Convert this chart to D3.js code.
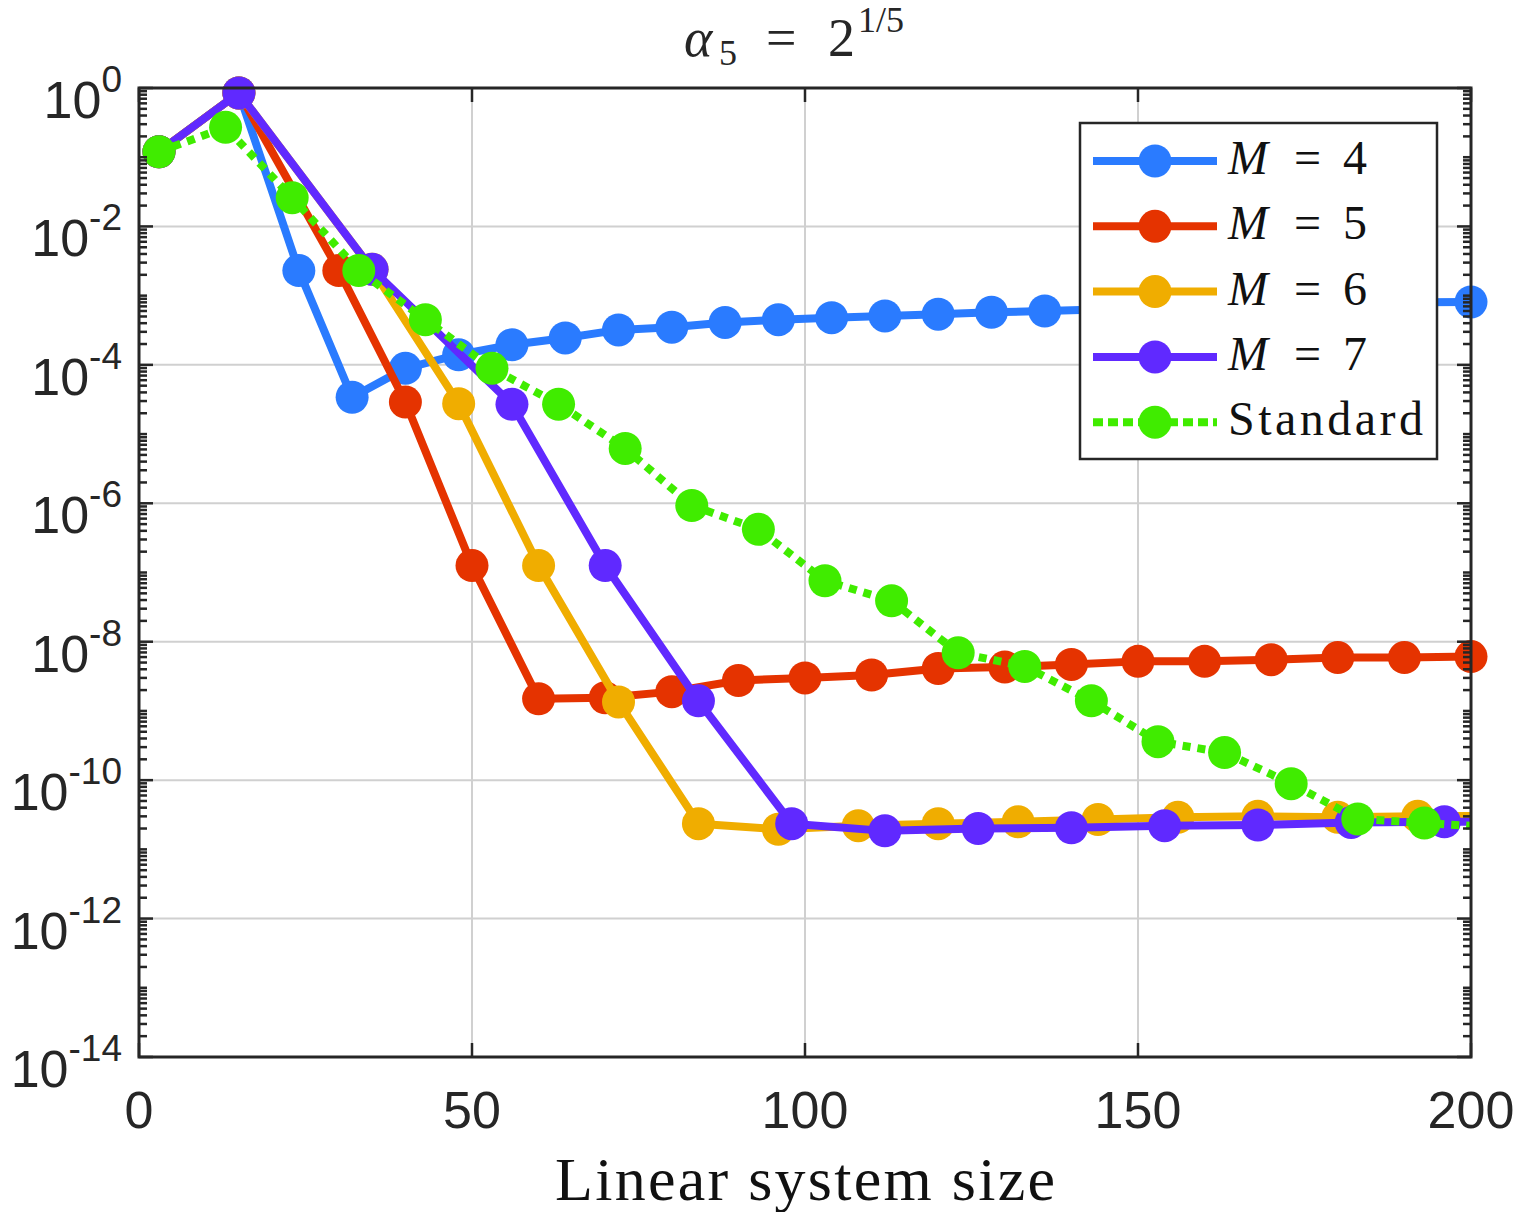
<!DOCTYPE html>
<html>
<head>
<meta charset="utf-8">
<script src="https://cdn.jsdelivr.net/npm/d3@7"></script>
<style>
  body { margin: 0; background: #fff; }
  svg { display: block; }
</style>
</head>
<body>
<svg id="chart" width="1516" height="1212"></svg>
<script>
// data (x = linear system size, y = error)
var seriesNames = ["M = 4", "M = 5", "M = 6", "M = 7", "Standard"];
var seriesColors = ["#2a7bff", "#e53300", "#f0ad00", "#6029ff", "#40ec00"];

var m4X = [3, 15, 24, 32, 40, 48, 56, 64, 72, 80, 88, 96, 104, 112, 120, 128, 136, 144, 152, 160, 168, 176, 184, 192, 200];
var m4Y = [0.12, 0.85, 2.3e-3, 3.4e-5, 8.9e-5, 1.4e-4, 1.95e-4, 2.45e-4, 3.2e-4, 3.5e-4, 4.1e-4, 4.5e-4, 4.8e-4, 5.1e-4, 5.4e-4, 5.75e-4, 6.0e-4, 6.3e-4, 6.6e-4, 6.9e-4, 7.2e-4, 7.5e-4, 7.8e-4, 8.0e-4, 8.1e-4];

var m5X = [3, 15, 30, 40, 50, 60, 70, 80, 90, 100, 110, 120, 130, 140, 150, 160, 170, 180, 190, 200];
var m5Y = [0.12, 0.85, 2.3e-3, 2.9e-5, 1.26e-7, 1.5e-9, 1.55e-9, 1.9e-9, 2.75e-9, 3.0e-9, 3.3e-9, 4.1e-9, 4.3e-9, 4.7e-9, 5.2e-9, 5.2e-9, 5.5e-9, 5.9e-9, 5.9e-9, 6.1e-9];

var m6X = [3, 15, 35, 48, 60, 72, 84, 96, 108, 120, 132, 144, 156, 168, 180, 192, 204];
var m6Y = [0.12, 0.85, 2.4e-3, 2.75e-5, 1.26e-7, 1.35e-9, 2.35e-11, 1.95e-11, 2.2e-11, 2.35e-11, 2.5e-11, 2.7e-11, 2.9e-11, 3.0e-11, 2.9e-11, 3.0e-11, 3.05e-11];

var m7X = [3, 15, 35, 56, 70, 84, 98, 112, 126, 140, 154, 168, 182, 196, 210];
var m7Y = [0.12, 0.85, 2.4e-3, 2.7e-5, 1.26e-7, 1.4e-9, 2.35e-11, 1.85e-11, 2.0e-11, 2.05e-11, 2.2e-11, 2.25e-11, 2.45e-11, 2.5e-11, 2.5e-11];

var stdX = [3, 13, 23, 33, 43, 53, 63, 73, 83, 93, 103, 113, 123, 133, 143, 153, 163, 173, 183, 193, 203];
var stdY = [0.12, 0.27, 2.6e-2, 2.3e-3, 4.5e-4, 8.9e-5, 2.7e-5, 6.2e-6, 9.3e-7, 4.2e-7, 7.6e-8, 3.9e-8, 6.9e-9, 4.4e-9, 1.4e-9, 3.6e-10, 2.5e-10, 8.9e-11, 2.75e-11, 2.4e-11, 2.1e-11];

var xTicks = [0, 50, 100, 150, 200];
var yTickExps = [0, -2, -4, -6, -8, -10, -12, -14];

var allX = [m4X, m5X, m6X, m7X, stdX];
var allY = [m4Y, m5Y, m6Y, m7Y, stdY];

var axLeft = 139, axRight = 1471, axTop = 88, axBottom = 1057;
var svg = d3.select("#chart");
var axisColor = "#262626";

var x = d3.scaleLinear().domain([0, 200]).range([axLeft, axRight]);
var y = d3.scaleLog().domain([1e-14, 1]).range([axBottom, axTop]);

// grid
var grid = svg.append("g");
xTicks.slice(1, -1).forEach(function (t) {
  grid.append("line")
    .attr("x1", x(t)).attr("x2", x(t))
    .attr("y1", axTop).attr("y2", axBottom)
    .style("stroke", "#d0d0d0").style("stroke-width", 2);
});
yTickExps.slice(1, -1).forEach(function (e) {
  grid.append("line")
    .attr("x1", axLeft).attr("x2", axRight)
    .attr("y1", y(Math.pow(10, e))).attr("y2", y(Math.pow(10, e)))
    .style("stroke", "#d0d0d0").style("stroke-width", 2);
});

// lines, clipped to the axes
svg.append("clipPath").attr("id", "plotclip")
  .append("rect").attr("x", axLeft).attr("y", axTop)
  .attr("width", axRight - axLeft).attr("height", axBottom - axTop);

var line = d3.line()
  .x(function (d) { return x(d[0]); })
  .y(function (d) { return y(d[1]); });

var plot = svg.append("g");
seriesNames.forEach(function (name, i) {
  var pts = allX[i].map(function (v, j) { return [v, allY[i][j]]; });
  var g = plot.append("g");
  var path = g.append("path")
    .datum(pts)
    .attr("d", line)
    .attr("clip-path", "url(#plotclip)")
    .style("fill", "none")
    .style("stroke", seriesColors[i])
    .style("stroke-width", 8)
    .style("stroke-linejoin", "round");
  if (name == "Standard") {
    path.style("stroke-dasharray", "8,7");
  }
  g.selectAll("circle")
    .data(pts.filter(function (d) { return d[0] <= 200; }))
    .enter().append("circle")
    .attr("cx", function (d) { return x(d[0]); })
    .attr("cy", function (d) { return y(d[1]); })
    .attr("r", 16.5)
    .style("fill", seriesColors[i]);
});

// box + ticks
var axes = svg.append("g");
axes.append("rect")
  .attr("x", axLeft).attr("y", axTop)
  .attr("width", axRight - axLeft).attr("height", axBottom - axTop)
  .style("fill", "none").style("stroke", axisColor).style("stroke-width", 3);

xTicks.forEach(function (t) {
  [[axBottom, -14], [axTop, 14]].forEach(function (s) {
    axes.append("line")
      .attr("x1", x(t)).attr("x2", x(t))
      .attr("y1", s[0]).attr("y2", s[0] + s[1])
      .style("stroke", axisColor).style("stroke-width", 2.5);
  });
  axes.append("text")
    .attr("x", x(t)).attr("y", 1128)
    .attr("text-anchor", "middle")
    .style("font-family", "'Liberation Sans', Arial, sans-serif")
    .style("font-size", "52px")
    .style("fill", axisColor)
    .text(t);
});

// log minor ticks
for (var e = -14; e < 0; e++) {
  for (var k = 1; k < 10; k++) {
    var v = k * Math.pow(10, e);
    var major = (k == 1 && yTickExps.indexOf(e) >= 0);
    var len = major ? 14 : 8;
    [[axLeft, len], [axRight, -len]].forEach(function (s) {
      axes.append("line")
        .attr("x1", s[0]).attr("x2", s[0] + s[1])
        .attr("y1", y(v)).attr("y2", y(v))
        .style("stroke", axisColor).style("stroke-width", 2.5);
    });
  }
}
[[axLeft, 14], [axRight, -14]].forEach(function (s) {
  axes.append("line")
    .attr("x1", s[0]).attr("x2", s[0] + s[1])
    .attr("y1", axTop).attr("y2", axTop)
    .style("stroke", axisColor).style("stroke-width", 2.5);
});

yTickExps.forEach(function (ex) {
  var ty = y(Math.pow(10, ex));
  var t = axes.append("text")
    .attr("x", 122).attr("y", ty + 30)
    .attr("text-anchor", "end")
    .style("font-family", "'Liberation Sans', Arial, sans-serif")
    .style("font-size", "52px")
    .style("fill", axisColor);
  t.append("tspan").text("10");
  t.append("tspan")
    .attr("dy", -26)
    .style("font-size", "37px")
    .text(ex == 0 ? "0" : "-" + (-ex));
});

// title and x label (serif, LaTeX look)
var serif = "'Liberation Serif', 'DejaVu Serif', serif";
var title = svg.append("text")
  .attr("y", 56)
  .style("font-family", serif)
  .style("font-size", "54px")
  .style("fill", axisColor);
title.append("tspan").attr("x", 684).style("font-style", "italic").text("α");
title.append("tspan").attr("x", 719).attr("dy", 9).style("font-size", "36px").text("5");
title.append("tspan").attr("x", 766).attr("dy", -9).text("=");
title.append("tspan").attr("x", 828).text("2");
title.append("tspan").attr("x", 858).attr("dy", -24).style("font-size", "36px").text("1/5");

svg.append("text")
  .attr("x", 805).attr("y", 1200)
  .attr("text-anchor", "middle")
  .attr("textLength", 500)
  .attr("lengthAdjust", "spacing")
  .style("font-family", serif)
  .style("font-size", "62px")
  .style("fill", "#111")
  .text("Linear system size");

// legend
var lg = svg.append("g");
lg.append("rect")
  .attr("x", 1080).attr("y", 123)
  .attr("width", 357).attr("height", 336)
  .style("fill", "#fff").style("stroke", axisColor).style("stroke-width", 2.5);

seriesNames.forEach(function (name, i) {
  var cy = 161 + i * 65.3;
  var l = lg.append("line")
    .attr("x1", 1093).attr("x2", 1217)
    .attr("y1", cy).attr("y2", cy)
    .style("stroke", seriesColors[i]).style("stroke-width", 8);
  if (name == "Standard") l.style("stroke-dasharray", "10,5");
  lg.append("circle")
    .attr("cx", 1155).attr("cy", cy).attr("r", 16.5)
    .style("fill", seriesColors[i]);
  var t = lg.append("text")
    .attr("x", 1228).attr("y", cy + 13)
    .style("font-family", serif)
    .style("font-size", "48px")
    .style("fill", "#111");
  if (name == "Standard") {
    t.attr("textLength", 195).attr("lengthAdjust", "spacing").text(name);
  } else {
    t.append("tspan").style("font-style", "italic").text("M");
    t.append("tspan").attr("x", 1294).text("=");
    t.append("tspan").attr("x", 1343).text(name.slice(-1));
  }
});
</script>
</body>
</html>
